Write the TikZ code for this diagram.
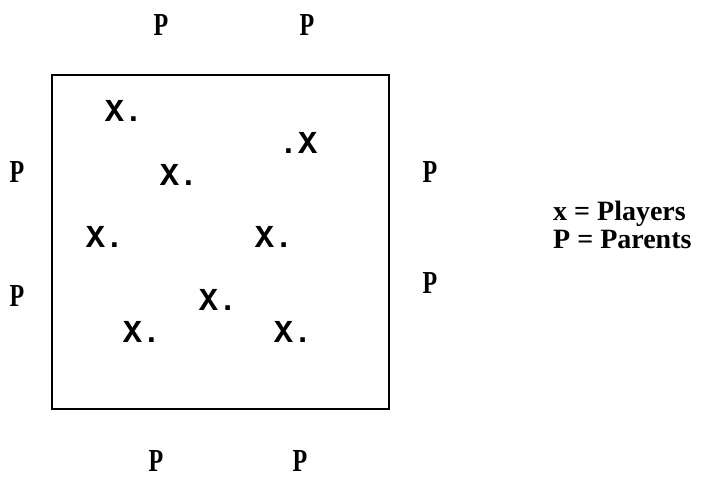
\documentclass[tikz,border=0pt]{standalone}
\usepackage{fontspec}
\setmainfont{Liberation Serif}
\newfontfamily\courierbold{Liberation Mono}[BoldFont={* Bold}]
\newfontfamily\parentfont{Liberation Serif Bold}[FakeStretch=0.75]
\begin{document}
\begin{tikzpicture}[x=1pt,y=-1pt,
  player/.style={font=\courierbold\bfseries\fontsize{32}{32}\selectfont,inner sep=0pt},
  parent/.style={font=\parentfont\fontsize{32}{32}\selectfont,inner sep=0pt}]
  \useasboundingbox (0,0) rectangle (717,478);
  % the field
  \draw[line width=2pt] (52,75) rectangle (389,409);
  % players on the field
  \node[player] (p1) at (124,111) {X.};
  \node[player] (p2) at (298,143) {.X};
  \node[player] (p3) at (179,175) {X.};
  \node[player] (p4) at (105,237) {X.};
  \node[player] (p5) at (274,237) {X.};
  \node[player] (p6) at (218,300) {X.};
  \node[player] (p7) at (142,332) {X.};
  \node[player] (p8) at (293,332) {X.};
  % parents round the field
  \node[parent] (t1) at (161,25) {P};
  \node[parent] (t2) at (307,25) {P};
  \node[parent] (l1) at (17,172) {P};
  \node[parent] (l2) at (17,296) {P};
  \node[parent] (r1) at (430,172) {P};
  \node[parent] (r2) at (430,283) {P};
  \node[parent] (b1) at (156,461) {P};
  \node[parent] (b2) at (300,461) {P};
  % key
  \node[anchor=west,align=left,inner sep=0pt,
        font=\bfseries\fontsize{28}{28}\selectfont] (key) at (553,225)
    {x = Players\\P = Parents};
\end{tikzpicture}
\end{document}
